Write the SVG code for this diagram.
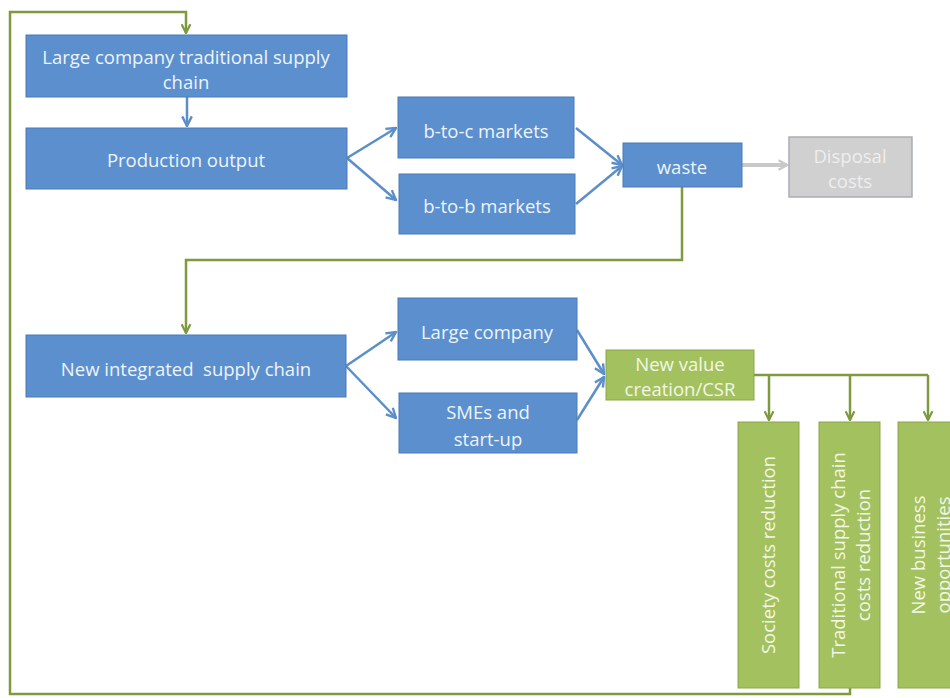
<svg xmlns="http://www.w3.org/2000/svg" width="950" height="698" viewBox="0 0 950 698">
<defs>
<marker id="ab" viewBox="0 0 10 10" markerWidth="12" markerHeight="12" refX="9" refY="5" orient="auto" markerUnits="userSpaceOnUse"><path d="M1,1 L9,5 L1,9" fill="none" stroke="#5b8ecb" stroke-width="2"/></marker>
<marker id="ag" viewBox="0 0 10 10" markerWidth="11" markerHeight="11" refX="9" refY="5" orient="auto" markerUnits="userSpaceOnUse"><path d="M1,1 L9,5 L1,9" fill="none" stroke="#7d9a3c" stroke-width="2"/></marker>
<marker id="ay" viewBox="0 0 10 10" markerWidth="12" markerHeight="12" refX="8" refY="5" orient="auto" markerUnits="userSpaceOnUse"><path d="M1,1 L8,5 L1,9" fill="none" stroke="#c9c9c9" stroke-width="2"/></marker>
</defs>
<style>
.b{fill:#5b8fcd;stroke:#4a7bb7;stroke-width:1}
.g{fill:#a3c15f;stroke:#8aa64a;stroke-width:1}
.y{fill:#d0d0d0;stroke:#a9aeb6;stroke-width:1.5}
text{font-family:"Open Sans","Liberation Sans",sans-serif;font-size:18.5px;fill:#eef4fb;text-anchor:middle}
.gt{fill:#f2f7e6}
.yt{fill:#eeeeee}
.cb{fill:none;stroke:#5b8ecb;stroke-width:2.5}
.cg{fill:none;stroke:#7d9a3c;stroke-width:2.5}
.cy{fill:none;stroke:#c9c9c9;stroke-width:4}
</style>
<rect width="950" height="698" fill="#ffffff"/>
<g id="connectors">
<path class="cg" d="M850,688 V694 H10 V12 H186 V33" marker-end="url(#ag)"/>
<path class="cb" d="M187,97 V126" marker-end="url(#ab)"/>
<path class="cb" d="M347,158 L396,128" marker-end="url(#ab)"/>
<path class="cb" d="M347,158 L396,200" marker-end="url(#ab)"/>
<path class="cb" d="M576,128 L622,165" marker-end="url(#ab)"/>
<path class="cb" d="M576,204 L622,166" marker-end="url(#ab)"/>
<path class="cy" d="M742,165 L787,165" marker-end="url(#ay)"/>
<path class="cg" d="M682,187 V260 H186 V333" marker-end="url(#ag)"/>
<path class="cb" d="M346,366 L396,332" marker-end="url(#ab)"/>
<path class="cb" d="M346,366 L396,418" marker-end="url(#ab)"/>
<path class="cb" d="M577,330 L604,374" marker-end="url(#ab)"/>
<path class="cb" d="M577,420 L604,377" marker-end="url(#ab)"/>
<path class="cg" d="M754,375 H928"/>
<path class="cg" d="M769,375 V420" marker-end="url(#ag)"/>
<path class="cg" d="M850,375 V420" marker-end="url(#ag)"/>
<path class="cg" d="M928,375 V420" marker-end="url(#ag)"/>
</g>
<g id="n1"><rect class="b" x="26" y="35" width="321" height="62"/><text x="186" y="64">Large company traditional supply</text><text x="186" y="89">chain</text></g>
<g id="n2"><rect class="b" x="26" y="128" width="321" height="61"/><text x="186" y="167">Production output</text></g>
<g id="n3"><rect class="b" x="398" y="97" width="176" height="61"/><text x="486" y="138">b-to-c markets</text></g>
<g id="n4"><rect class="b" x="399" y="174" width="176" height="60"/><text x="487" y="213">b-to-b markets</text></g>
<g id="n5"><rect class="b" x="623" y="143" width="119" height="44"/><text x="682" y="174">waste</text></g>
<g id="n6"><rect class="y" x="789" y="137" width="123" height="60"/><text class="yt" x="850" y="163">Disposal</text><text class="yt" x="850" y="188">costs</text></g>
<g id="n7"><rect class="b" x="26" y="335" width="320" height="62"/><text x="186" y="376" xml:space="preserve">New integrated  supply chain</text></g>
<g id="n8"><rect class="b" x="398" y="298" width="179" height="62"/><text x="487" y="339">Large company</text></g>
<g id="n9"><rect class="b" x="399" y="393" width="178" height="60"/><text x="488" y="419">SMEs and</text><text x="488" y="446">start-up</text></g>
<g id="n10"><rect class="g" x="606" y="350" width="148" height="50"/><text class="gt" x="680" y="371">New value</text><text class="gt" x="680" y="396">creation/CSR</text></g>
<g id="n11"><rect class="g" x="738" y="422" width="61" height="266"/><text class="gt" transform="translate(775,555) rotate(-90)">Society costs reduction</text></g>
<g id="n12"><rect class="g" x="819" y="422" width="61" height="266"/><text class="gt" transform="translate(845,555) rotate(-90)">Traditional supply chain</text><text class="gt" transform="translate(870,555) rotate(-90)">costs reduction</text></g>
<g id="n13"><rect class="g" x="898" y="422" width="61" height="266"/><text class="gt" transform="translate(925,555) rotate(-90)">New business</text><text class="gt" transform="translate(950,555) rotate(-90)">opportunities</text></g>
</svg>
